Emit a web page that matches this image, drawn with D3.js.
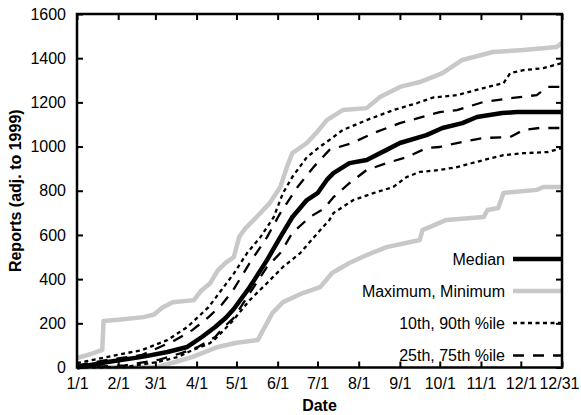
<!DOCTYPE html>
<html><head><meta charset="utf-8">
<script src="https://cdn.jsdelivr.net/npm/d3@7"></script>
<style>body{margin:0;background:#fff}svg{display:block}text{font-family:"Liberation Sans",Arial,Helvetica,sans-serif}</style>
</head><body><svg id="c" width="581" height="415"></svg>
<script>
// day of year (0 = 1/1), value
const tickDays = [0,31,59,90,120,151,181,212,243,273,304,334,365];
const tickLabels = ["1/1","2/1","3/1","4/1","5/1","6/1","7/1","8/1","9/1","10/1","11/1","12/1","12/31"];
const yTicks = [0,200,400,600,800,1000,1200,1400,1600];

const maxSeries = [[0,43],[10,60],[19,80],[20,210],[35,218],[50,228],[58,240],[64,270],[72,295],[88,305],[93,345],[100,380],[106,440],[112,475],[118,500],[122,590],[126,625],[135,680],[145,744],[153,817],[158,907],[162,970],[173,1016],[180,1061],[188,1120],[200,1165],[218,1174],[228,1224],[243,1270],[258,1292],[275,1332],[290,1392],[313,1428],[336,1437],[361,1451],[365,1468]];
const minSeries = [[0,0],[60,2],[74,25],[87,48],[106,93],[119,111],[136,124],[147,246],[155,296],[170,337],[183,364],[192,428],[205,473],[218,509],[233,545],[251,568],[258,577],[260,622],[278,668],[306,681],[309,713],[317,722],[321,790],[346,804],[351,817],[365,817]];
const medianSeries = [[0,0],[23,25],[49,48],[68,70],[83,93],[94,138],[104,183],[112,225],[118,265],[130,364],[143,486],[153,590],[162,680],[173,758],[181,789],[188,849],[193,880],[205,925],[218,939],[233,985],[243,1016],[263,1052],[275,1084],[290,1106],[301,1134],[320,1152],[331,1156],[365,1156]];
const p90Series = [[0,20],[23,48],[49,79],[68,124],[83,183],[99,273],[108,345],[118,425],[128,518],[138,590],[148,680],[155,789],[162,862],[173,952],[183,1000],[190,1030],[200,1075],[218,1120],[238,1165],[256,1197],[268,1222],[286,1233],[306,1265],[321,1287],[326,1332],[336,1346],[351,1355],[365,1378]];
const p10Series = [[0,0],[36,2],[61,25],[76,48],[87,79],[100,110],[105,135],[117,210],[130,305],[143,382],[155,455],[168,518],[181,608],[190,668],[193,699],[208,758],[223,789],[238,817],[248,862],[258,885],[273,894],[286,907],[306,939],[321,961],[336,970],[354,975],[365,993]];
const p75Series = [[0,10],[23,34],[49,57],[74,124],[87,170],[99,228],[109,285],[117,345],[130,473],[143,590],[153,699],[166,817],[178,907],[190,985],[207,1016],[223,1061],[243,1106],[260,1134],[273,1156],[286,1165],[306,1202],[328,1220],[346,1233],[354,1270],[365,1270]];
const p25Series = [[0,0],[36,10],[61,34],[79,66],[91,93],[104,138],[110,180],[118,225],[130,337],[143,455],[153,518],[162,608],[175,680],[186,720],[193,771],[205,834],[218,894],[233,925],[248,952],[263,993],[273,998],[286,1016],[306,1039],[326,1043],[336,1075],[348,1084],[365,1084]];

const legendLabels = ["Median","Maximum, Minimum","10th, 90th %ile","25th, 75th %ile"];

const L=77,R=562,T=14,B=367.5;
const FS=16;
const svg=d3.select("#c");
const x=d3.scaleLinear().domain([0,365]).range([L,R]);
const y=d3.scaleLinear().domain([0,1600]).range([B,T]);
const line=d3.line().x(d=>x(d[0])).y(d=>y(d[1]));

const styles={
  gray:{stroke:"#c8c8c8",w:4.5,dash:null},
  p10:{stroke:"#000",w:2.3,dash:"4,3.5"},
  p25:{stroke:"#000",w:2.3,dash:"11,9"},
  med:{stroke:"#000",w:4.5,dash:null}
};
const series=[[maxSeries,"gray"],[minSeries,"gray"],[p90Series,"p10"],[p10Series,"p10"],[p75Series,"p25"],[p25Series,"p25"],[medianSeries,"med"]];
const g=svg.append("g");
series.forEach(([s,k])=>{
  const st=styles[k];
  g.append("path").attr("d",line(s)).attr("fill","none").attr("stroke",st.stroke)
   .attr("stroke-width",st.w).attr("stroke-dasharray",st.dash).attr("stroke-linejoin","round");
});

// legend
const legKeys=["med","gray","p10","p25"];
const legY=[259,291,323,355.5];
legendLabels.forEach((t,i)=>{
  svg.append("text").attr("x",505).attr("y",legY[i]).attr("dy","0.35em").attr("text-anchor","end")
    .attr("font-size",FS).attr("fill","#000").text(t);
  const st=styles[legKeys[i]];
  svg.append("line").attr("x1",513).attr("x2",R).attr("y1",legY[i]).attr("y2",legY[i])
    .attr("stroke",st.stroke).attr("stroke-width",st.w).attr("stroke-dasharray",st.dash);
});

// axes (ticks inward)
const tl=6;
const bx=svg.append("g").attr("transform",`translate(0,${B})`)
  .call(d3.axisBottom(x).tickValues(tickDays).tickFormat((d,i)=>tickLabels[i]).tickSize(-tl).tickPadding(tl+4));
const tx=svg.append("g").attr("transform",`translate(0,${T})`)
  .call(d3.axisTop(x).tickValues(tickDays).tickFormat("").tickSize(-tl));
const ly=svg.append("g").attr("transform",`translate(${L},0)`)
  .call(d3.axisLeft(y).tickValues(yTicks).tickFormat(d3.format("d")).tickSize(-tl).tickPadding(tl+5));
const ry=svg.append("g").attr("transform",`translate(${R},0)`)
  .call(d3.axisRight(y).tickValues(yTicks).tickFormat("").tickSize(-tl));
[bx,tx,ly,ry].forEach(a=>{
  a.select(".domain").remove();
  a.selectAll(".tick line").attr("stroke","#000").attr("stroke-width",2);
  a.selectAll("text").attr("font-size",FS).attr("fill","#000").attr("font-family",'"Liberation Sans",Arial,sans-serif');
});
// last x label kept inside the picture
bx.selectAll(".tick text").filter(d=>d===365).attr("text-anchor","end").attr("x",579-R);
svg.append("rect").attr("x",L).attr("y",T).attr("width",R-L).attr("height",B-T)
  .attr("fill","none").attr("stroke","#000").attr("stroke-width",2.5);

svg.append("text").attr("x",(L+R)/2).attr("y",411).attr("text-anchor","middle")
  .attr("font-size",FS).attr("font-weight","bold").text("Date");
svg.append("text").attr("transform",`translate(21,${(T+B)/2}) rotate(-90)`).attr("text-anchor","middle")
  .attr("font-size",FS).attr("font-weight","bold").text("Reports (adj. to 1999)");
</script></body></html>
